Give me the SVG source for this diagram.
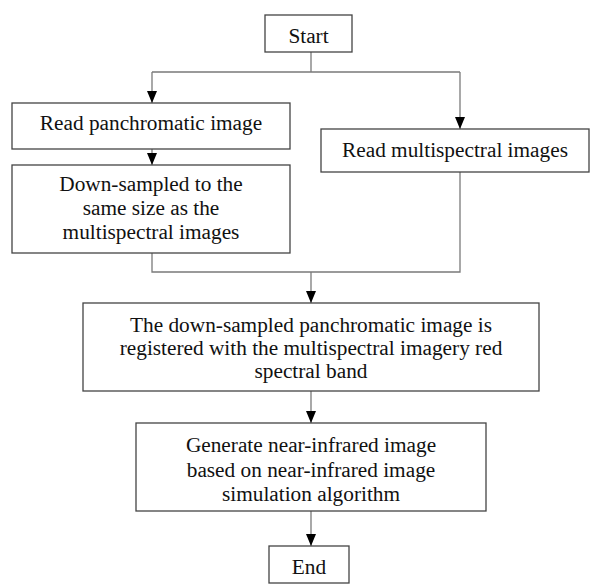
<svg xmlns="http://www.w3.org/2000/svg" width="591" height="584" viewBox="0 0 591 584">
<style>
.box{fill:#fff;stroke:#444;stroke-width:1.3}
.t{font-family:"Liberation Serif","Times New Roman",serif;font-size:21.3px;fill:#111;text-anchor:middle}
.c{fill:none;stroke:#7a7a7a;stroke-width:1.3}
</style>
<defs>
<marker id="ah" markerWidth="12" markerHeight="10" refX="12" refY="5" orient="auto" markerUnits="userSpaceOnUse" viewBox="0 0 12 10">
<path d="M0,0 L12,5 L0,10 Z" fill="#000"/>
</marker>
</defs>
<rect width="591" height="584" fill="#fff"/>
<g id="connectors">
<path class="c" d="M311,52 V72 M152,72 H460"/>
<path class="c" d="M152,72 V103" marker-end="url(#ah)"/>
<path class="c" d="M460,72 V129" marker-end="url(#ah)"/>
<path class="c" d="M152,149 V165" marker-end="url(#ah)"/>
<path class="c" d="M152,253 V272 H460 V172"/>
<path class="c" d="M311,272 V303" marker-end="url(#ah)"/>
<path class="c" d="M311,391 V423" marker-end="url(#ah)"/>
<path class="c" d="M311,511 V546" marker-end="url(#ah)"/>
</g>
<g id="start">
<rect class="box" x="265" y="15" width="87" height="37"/>
<text class="t" x="308.5" y="43">Start</text>
</g>
<g id="read-pan">
<rect class="box" x="12" y="103" width="278" height="46"/>
<text class="t" x="151" y="130">Read panchromatic image</text>
</g>
<g id="read-ms">
<rect class="box" x="321" y="129" width="268" height="43"/>
<text class="t" x="455" y="157">Read multispectral images</text>
</g>
<g id="downsample">
<rect class="box" x="12" y="165" width="278" height="88"/>
<text class="t" x="151" y="191">Down-sampled to the</text>
<text class="t" x="151" y="215">same size as the</text>
<text class="t" x="151" y="239">multispectral images</text>
</g>
<g id="register">
<rect class="box" x="83" y="303" width="456" height="88"/>
<text class="t" x="311" y="332">The down-sampled panchromatic image is</text>
<text class="t" x="311" y="355">registered with the multispectral imagery red</text>
<text class="t" x="311" y="378">spectral band</text>
</g>
<g id="generate">
<rect class="box" x="136" y="423" width="350" height="88"/>
<text class="t" x="311" y="452">Generate near-infrared image</text>
<text class="t" x="311" y="477">based on near-infrared image</text>
<text class="t" x="311" y="501">simulation algorithm</text>
</g>
<g id="end">
<rect class="box" x="269" y="546" width="80" height="37"/>
<text class="t" x="309" y="574">End</text>
</g>
</svg>
